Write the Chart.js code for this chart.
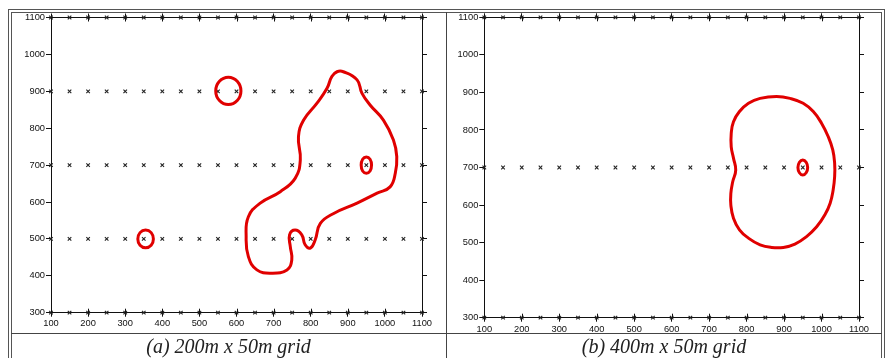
<!DOCTYPE html>
<html>
<head>
<meta charset="utf-8">
<script src="https://cdn.jsdelivr.net/npm/chart.js@4.4.0/dist/chart.umd.min.js"></script>
<style>
  body { margin: 0; width: 889px; height: 358px; background: #fff; position: relative; overflow: hidden; }
  .line { position: absolute; box-sizing: border-box; border: 1px solid #555; }
  .bar { position: absolute; background: #444; }
  .panel { position: absolute; top: 0; height: 358px; }
  .caption { position: absolute; top: 334px; height: 24px; line-height: 24px; text-align: center;
             font-family: "Liberation Serif", "DejaVu Serif", serif; font-style: italic; font-size: 20px; color: #222; }
</style>
</head>
<body>
<div class="line" style="left:8px; top:9px; width:877px; height:400px;"></div>
<div class="line" style="left:11px; top:12px; width:871px; height:400px;"></div>
<div class="bar" style="left:446px; top:12px; width:1px; height:346px;"></div>
<div class="bar" style="left:11px; top:333px; width:871px; height:1px;"></div>

<div class="panel" style="left:0; width:445px;"><canvas id="chartA" width="445" height="358"></canvas></div>
<div class="panel" style="left:447px; width:434px;"><canvas id="chartB" width="434" height="358"></canvas></div>

<div class="caption" style="left:11px; width:435px;">(a) 200m x 50m grid</div>
<div class="caption" style="left:447px; width:434px;">(b) 400m x 50m grid</div>

<script>
// survey stations (x, m) along each line (y, m)
const stationX = [100, 150, 200, 250, 300, 350, 400, 450, 500, 550, 600, 650, 700, 750, 800, 850, 900, 950, 1000, 1050, 1100];
const linesA = [300, 500, 700, 900, 1100];
const linesB = [300, 700, 1100];

// anomaly outlines (closed loops)
const bigAnomalyA = [
  [888, 953], [925, 931], [938, 895], [960, 863], [996, 822], [1023, 768], [1032, 723], [1028, 678],
  [1014, 641], [979, 624], [925, 597], [862, 569], [826, 542], [812, 497], [799, 475], [785, 484],
  [776, 511], [758, 524], [743, 511], [745, 479], [749, 443], [736, 416], [695, 407], [655, 416],
  [632, 452], [626, 506], [632, 560], [664, 597], [718, 628], [758, 664], [772, 714], [767, 777],
  [781, 822], [817, 868], [844, 908], [857, 940], [871, 953]
];
const ringA1 = [[612, 901], [602, 927], [578, 938], [554, 927], [544, 901], [554, 875], [578, 864], [602, 875]];
const ringA2 = [[964, 700], [960, 716], [950, 722], [940, 716], [936, 700], [940, 684], [950, 678], [960, 684]];
const ringA3 = [[376, 500], [370, 517], [355, 524], [340, 517], [334, 500], [340, 483], [355, 476], [370, 483]];

const bigAnomalyB = [
  [880, 889], [916, 884], [951, 871], [978, 849], [1000, 818], [1018, 782], [1030, 747], [1035, 711],
  [1035, 676], [1031, 640], [1023, 605], [1009, 574], [987, 542], [960, 516], [929, 496], [898, 487],
  [867, 487], [836, 494], [805, 512], [781, 534], [765, 565], [758, 600], [758, 631], [763, 662],
  [771, 693], [765, 725], [759, 755], [759, 791], [765, 822], [781, 849], [805, 871], [836, 884]
];
const ringB1 = [[963, 700], [959, 714], [950, 720], [941, 714], [937, 700], [941, 686], [950, 680], [959, 686]];

const red = '#e00000';

function stations(lines) {
  const pts = [];
  lines.forEach(y => stationX.forEach(x => pts.push({ x: x, y: y })));
  return pts;
}

// wrap a loop so the spline is smooth all the way round, hide the two extra segments
function loopDataset(pts) {
  const n = pts.length;
  const wrapped = [pts[n - 1]].concat(pts, [pts[0], pts[1]]).map(p => ({ x: p[0], y: p[1] }));
  const last = wrapped.length - 1;
  return {
    data: wrapped,
    showLine: true,
    borderColor: red,
    borderWidth: 3,
    pointRadius: 0,
    tension: 0.45,
    fill: false,
    clip: false,
    segment: {
      borderColor: ctx => (ctx.p0DataIndex === 0 || ctx.p1DataIndex === last) ? 'rgba(0,0,0,0)' : undefined
    }
  };
}

// short tick marks on the inner side of the top and bottom axes (the "+" look)
const innerTicks = {
  id: 'innerTicks',
  afterDatasetsDraw(chart) {
    const ctx = chart.ctx;
    const area = chart.chartArea;
    ctx.save();
    ctx.strokeStyle = '#111';
    ctx.lineWidth = 1;
    ['x', 'x2'].forEach(id => {
      const s = chart.scales[id];
      const y0 = id === 'x' ? area.bottom : area.top;
      const dir = id === 'x' ? -1 : 1;
      s.ticks.forEach(t => {
        const px = Math.round(s.getPixelForValue(t.value)) + 0.5;
        ctx.beginPath();
        ctx.moveTo(px, y0);
        ctx.lineTo(px, y0 + dir * 4);
        ctx.stroke();
      });
    });
    ctx.restore();
  }
};

function makeChart(id, lines, loops, fit) {
  const tickFont = { family: '"Liberation Sans", Arial, sans-serif', size: 9.3 };
  const axisGrid = { drawOnChartArea: false, drawTicks: true, tickLength: 4, color: '#111', lineWidth: 1 };
  const border = { display: true, color: '#111', width: 1 };
  const plain = v => String(v);

  const datasets = loops.map(loopDataset);
  datasets.push({
    data: stations(lines),
    showLine: false,
    pointStyle: 'crossRot',
    pointRadius: 2.5,
    borderColor: '#222',
    borderWidth: 1.1,
    clip: false
  });

  new Chart(document.getElementById(id), {
    type: 'scatter',
    data: { datasets: datasets },
    plugins: [innerTicks],
    options: {
      responsive: false,
      animation: false,
      events: [],
      layout: { padding: 0, autoPadding: false },
      plugins: { legend: { display: false }, tooltip: { enabled: false } },
      scales: {
        x: {
          type: 'linear', position: 'bottom', min: 100, max: 1100,
          ticks: { stepSize: 100, font: tickFont, color: '#111', padding: fit.xPad, maxRotation: 0, callback: plain },
          grid: axisGrid, border: border,
          afterFit: s => { s.height = fit.bottom; }
        },
        x2: {
          type: 'linear', position: 'top', min: 100, max: 1100,
          ticks: { stepSize: 100, display: false },
          grid: axisGrid, border: border,
          afterFit: s => { s.height = fit.top; }
        },
        y: {
          type: 'linear', position: 'left', min: 300, max: 1100,
          ticks: { stepSize: 100, font: tickFont, color: '#111', padding: 1, callback: plain },
          grid: Object.assign({}, axisGrid, { tickLength: 5 }), border: border,
          afterFit: s => { s.width = fit.left; }
        },
        y2: {
          type: 'linear', position: 'right', min: 300, max: 1100,
          ticks: { stepSize: 100, display: false },
          grid: Object.assign({}, axisGrid, { tickLength: 5 }), border: border,
          afterFit: s => { s.width = fit.right; }
        }
      }
    }
  });
}

makeChart('chartA', linesA, [bigAnomalyA, ringA1, ringA2, ringA3], { left: 51, right: 23, top: 17.5, bottom: 45.3, xPad: 1 });
makeChart('chartB', linesB, [bigAnomalyB, ringB1], { left: 37.3, right: 22, top: 17.3, bottom: 40.3, xPad: 2 });
</script>
</body>
</html>
